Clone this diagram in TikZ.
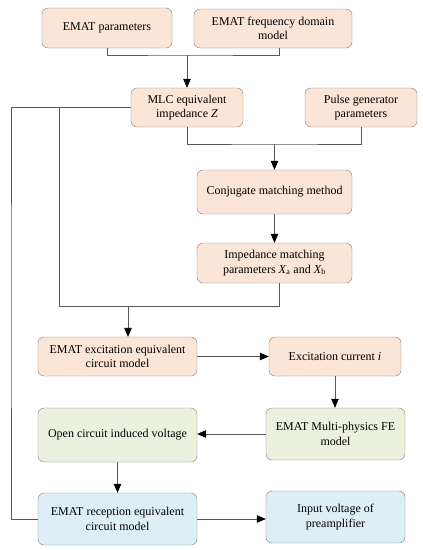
\documentclass[tikz,border=0pt]{standalone}
\usepackage{fontspec}
\setmainfont{Liberation Serif}
\usetikzlibrary{arrows.meta,positioning,calc}
\definecolor{FlowPeach}{HTML}{FBE5D6}
\definecolor{FlowGreen}{HTML}{EBF1DE}
\definecolor{FlowBlue}{HTML}{DDEEF6}
\definecolor{FlowEdge}{HTML}{7F7F7F}
\definecolor{FlowLine}{HTML}{595959}
\begin{document}
\begin{tikzpicture}[x=1pt,y=-1pt,>={Triangle[length=9pt,width=7.5pt,color=black]},
 flowbox/.style={draw=FlowEdge,rounded corners=6pt,align=center,inner sep=2pt,font=\fontsize{12}{14.5}\selectfont},
 peachbox/.style={flowbox,fill=FlowPeach},
 greenbox/.style={flowbox,fill=FlowGreen},
 bluebox/.style={flowbox,fill=FlowBlue},
 link/.style={draw=FlowLine,line width=0.8pt}]
\useasboundingbox (0,0) rectangle (423,550);
\node[peachbox,minimum width=130pt,minimum height=40pt] (par) at (107,28) {EMAT parameters};
\node[peachbox,minimum width=158pt,minimum height=39pt] (freq) at (273,28.5) {EMAT frequency domain\\model};
\node[peachbox,minimum width=112pt,minimum height=39pt] (mlc) at (187,107.5) {MLC equivalent\\impedance \textit{Z}};
\node[peachbox,minimum width=112pt,minimum height=39pt] (pulse) at (361,107.5) {Pulse generator\\parameters};
\node[peachbox,minimum width=155pt,minimum height=44pt] (conj) at (274.5,192) {Conjugate matching method};
\node[peachbox,minimum width=155pt,minimum height=40pt] (imp) at (274.5,263) {Impedance matching\\parameters \textit{X}\textsubscript{a} and \textit{X}\textsubscript{b}};
\node[peachbox,minimum width=159pt,minimum height=39pt] (exc) at (117.5,356.5) {EMAT excitation equivalent\\circuit model};
\node[peachbox,minimum width=132pt,minimum height=39pt] (cur) at (335,356.5) {Excitation current \textit{i}};
\node[greenbox,minimum width=139pt,minimum height=52pt] (fem) at (335.5,434) {EMAT Multi-physics FE\\model};
\node[greenbox,minimum width=159pt,minimum height=54pt] (ocv) at (117.5,435) {Open circuit induced voltage};
\node[bluebox,minimum width=159pt,minimum height=52pt] (rec) at (117.5,519) {EMAT reception equivalent\\circuit model};
\node[bluebox,minimum width=139pt,minimum height=52pt] (pre) at (335.5,517) {Input voltage of\\preamplifier};
% junctions
\coordinate (j1) at (187,55);
\coordinate (j2) at (274.5,144);
\coordinate (j3) at (128,306);
\coordinate (c1) at (11,300);
\coordinate (c2) at (59,306);
% connectors
\draw[link] (par.south) |- (j1) -| ([xshift=6pt]freq.south);
\draw[link,->] (j1) -- (mlc.north);
\draw[link] (mlc.south) |- (j2) -| (pulse.south);
\draw[link,->] (j2) -- (conj.north);
\draw[link,->] (conj) -- (imp);
\draw[link] (mlc.west) -| (c1) |- (rec.west);
\draw[link] ([xshift=5pt]imp.south) |- (c2) -- (c2 |- mlc.west);
\draw[link,->] (j3) -- (j3 |- exc.north);
\draw[link,->] (exc) -- (cur);
\draw[link,->] (cur) -- (cur |- fem.north);
\draw[link,->] (fem.west) -- (fem.west -| ocv.east);
\draw[link,->] (ocv) -- (rec);
\draw[link,->] (rec.east) -- (rec.east -| pre.west);
\end{tikzpicture}
\end{document}
